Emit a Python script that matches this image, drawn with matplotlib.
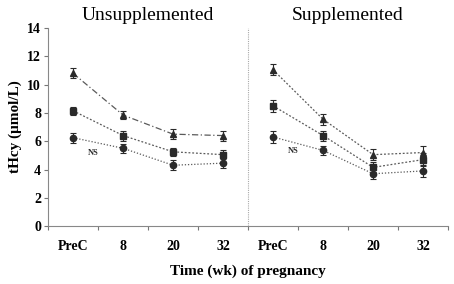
import numpy as np
import matplotlib.pyplot as plt

plt.rcParams['font.family'] = 'Liberation Serif'

# x categories: 4 time points per group
time_labels = ['PreC', '8', '20', '32', 'PreC', '8', '20', '32']
groups = ['Unsupplemented', 'Supplemented']

# tHcy means (umol/L), one list per marker series, per group
unsup_tri = [10.8, 7.85, 6.5, 6.4]
unsup_sq = [8.15, 6.4, 5.25, 5.05]
unsup_circ = [6.25, 5.5, 4.3, 4.45]
sup_tri = [11.05, 7.55, 5.05, 5.2]
sup_sq = [8.5, 6.4, 4.15, 4.7]
sup_circ = [6.3, 5.35, 3.7, 3.9]

# standard errors
unsup_tri_err = [0.35, 0.3, 0.35, 0.35]
unsup_sq_err = [0.3, 0.35, 0.3, 0.3]
unsup_circ_err = [0.35, 0.3, 0.35, 0.35]
sup_tri_err = [0.4, 0.4, 0.4, 0.45]
sup_sq_err = [0.4, 0.35, 0.35, 0.45]
sup_circ_err = [0.4, 0.3, 0.35, 0.4]

fig = plt.figure(figsize=(4.54, 2.84), dpi=100)
ax = fig.add_axes([0.106, 0.204, 0.881, 0.697])

col = '#2a2a2a'
line_col = '#5a5a5a'
x_un = np.arange(4)
x_su = np.arange(4) + 4

def series(x, y, err, marker, ls, ms):
    ax.plot(x, y, color=line_col, linestyle=ls, lw=0.9, zorder=2)
    ax.errorbar(x, y, yerr=err, color=col, marker=marker, ms=ms,
                linestyle='none', elinewidth=0.8, capsize=2, capthick=0.8,
                zorder=3)

series(x_un, unsup_tri, unsup_tri_err, '^', (0, (5, 2, 1, 2)), 5)
series(x_un, unsup_sq, unsup_sq_err, 's', (0, (1.5, 1.5)), 4.5)
series(x_un, unsup_circ, unsup_circ_err, 'o', (0, (1, 1.5)), 4.5)
series(x_su, sup_tri, sup_tri_err, '^', (0, (1.5, 1.5)), 5)
series(x_su, sup_sq, sup_sq_err, 's', (0, (1.5, 1.5)), 4.5)
series(x_su, sup_circ, sup_circ_err, 'o', (0, (1, 1.5)), 4.5)

ax.text(0.4, 5.2, 'NS', fontsize=6, fontweight='bold', color=col,
        ha='center', va='center')
ax.text(4.4, 5.3, 'NS', fontsize=6, fontweight='bold', color=col,
        ha='center', va='center')

# divider between groups
ax.axvline(3.5, color='#aaaaaa', lw=0.8, ls=(0, (1, 1)))

ax.set_xlim(-0.5, 7.5)
ax.set_ylim(0, 14)
ax.set_yticks(np.arange(0, 15, 2))
ax.set_xticks(np.arange(-0.5, 8, 1))
ax.set_xticklabels([])
ax.set_xticks(np.arange(8), minor=True)
ax.set_xticklabels(time_labels, minor=True)
ax.tick_params(axis='x', which='minor', length=0, pad=10)
ax.tick_params(axis='x', which='major', length=3, color='#777777')
ax.tick_params(axis='y', length=3, color='#777777', pad=2)
for lab in ax.get_xticklabels(minor=True) + ax.get_yticklabels():
    lab.set_fontweight('bold')
    lab.set_fontsize(10)

for s in ['top', 'right']:
    ax.spines[s].set_visible(False)
for s in ['left', 'bottom']:
    ax.spines[s].set_color('#888888')
    ax.spines[s].set_linewidth(0.8)

ax.set_ylabel('tHcy (μmol/L)', fontsize=11, fontweight='bold', labelpad=4)
ax.set_xlabel('Time (wk) of pregnancy', fontsize=11, fontweight='bold', labelpad=8)

ax.text(1.5, 14.9, groups[0], fontsize=14, ha='center', va='center')
ax.text(5.5, 14.9, groups[1], fontsize=14, ha='center', va='center')

fig.savefig('out.png', dpi=100)
